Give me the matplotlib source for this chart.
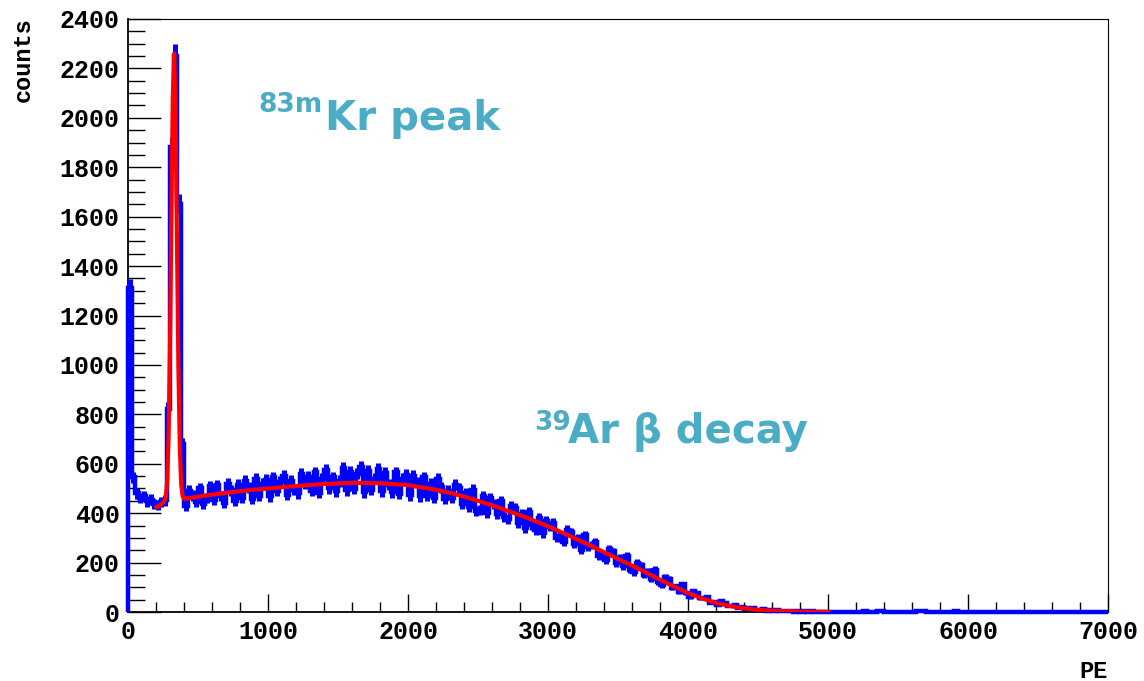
import numpy as np
import matplotlib
matplotlib.use("Agg")
import matplotlib.pyplot as plt
from matplotlib.ticker import MultipleLocator

# histogram: counts per 25 PE bin, 0 - 7000 PE
bin_width = 25
pe_min, pe_max = 0, 7000
counts = [
    1310, 545, 480, 462, 470, 448, 455, 438, 432, 446, 452, 820, 1880, 2250, 1650, 680,
    430, 490, 472, 445, 500, 438, 462, 508, 455, 512, 470, 440, 520, 492, 450, 515,
    462, 530, 505, 458, 540, 470, 518, 535, 468, 545, 490, 528, 552, 475, 530, 495,
    480, 558, 520, 548, 490, 565, 482, 540, 575, 500, 545, 488, 530, 582, 492, 568,
    498, 560, 585, 485, 570, 495, 540, 578, 488, 562, 515, 485, 565, 478, 540, 555,
    472, 550, 525, 468, 545, 470, 520, 462, 540, 505, 458, 490, 462, 515, 500, 438,
    480, 425, 495, 410, 412, 470, 400, 460, 438, 395, 450, 385, 375, 430, 420, 360,
    395, 340, 405, 352, 330, 382, 318, 370, 345, 360, 300, 308, 285, 332, 322, 275,
    298, 250, 310, 262, 270, 282, 225, 235, 210, 255, 245, 198, 220, 185, 228, 172,
    160, 200, 190, 150, 165, 132, 172, 122, 108, 140, 135, 98, 105, 82, 112, 76,
    60, 85, 78, 55, 56, 62, 38, 42, 30, 44, 38, 25, 25, 28, 16, 20,
    12, 18, 16, 10, 8, 11, 6, 7, 5, 7, 4, 5, 3, 5, 2, 4,
    2, 3, 1, 3, 1, 2, 1, 2,
    1, 0, 2, 1, 0, 1, 2, 0, 1, 2, 5, 1, 0, 2, 4, 6, 1, 0, 2, 1,
    0, 1, 2, 0, 1, 3, 6, 4, 1, 0, 1, 2, 0, 1, 1, 2, 5, 1, 0, 1,
    1, 0, 1, 2, 0, 1, 0, 1, 2, 0, 1, 0, 1, 1, 0, 2, 0, 1, 0, 1,
    0, 1, 0, 1, 2, 0, 1, 0, 0, 1, 0, 1, 0, 1, 1, 0, 0, 1, 0, 0,
]

# fitted curve
fit_pe = [205, 230, 250, 260, 270, 280, 290, 300, 310, 320, 330, 340, 350, 360,
          370, 380, 390, 400, 450, 500, 600, 700, 800, 900, 1000, 1200, 1400,
          1600, 1800, 2000, 2200, 2300, 2400, 2500, 2600, 2700, 2800, 2900,
          3000, 3100, 3200, 3300, 3400, 3500, 3600, 3700, 3800, 3900, 4000,
          4100, 4200, 4300, 4400, 4500, 4600, 4700, 4800, 4900, 5000]
fit_counts = [425, 433, 442, 450, 465, 530, 710, 1075, 1600, 2085, 2260, 2005,
              1490, 990, 670, 515, 470, 458, 462, 467, 475, 482, 489, 495, 500,
              510, 518, 523, 521, 514, 495, 482, 467, 450, 432, 412, 392, 370,
              347, 322, 296, 270, 242, 215, 188, 160, 131, 103, 77, 55, 37, 24,
              15, 9, 5, 3, 2, 1, 1]

label_color = '#4BACC6'
mono = ['Liberation Mono', 'DejaVu Sans Mono']

counts = np.array(counts, dtype=float)
edges = np.arange(pe_min, pe_max + bin_width, bin_width)
centers = 0.5 * (edges[:-1] + edges[1:])
err = np.sqrt(counts)

fig = plt.figure(figsize=(11.44, 6.81), dpi=100)
ax = fig.add_axes([128/1144, 69/681, 980/1144, 593/681])

ax.stairs(counts, edges, baseline=0, color='#0000ff', lw=3.2, zorder=3, clip_on=False)
ax.vlines(centers, counts - err, counts + err, color='#0000ff', lw=3.6, zorder=3, clip_on=False)
ax.plot(fit_pe, fit_counts, color='#ff0000', lw=3.0, zorder=4, solid_joinstyle='round')

ax.set_xlim(pe_min, pe_max)
ax.set_ylim(0, 2400)
ax.xaxis.set_major_locator(MultipleLocator(1000))
ax.xaxis.set_minor_locator(MultipleLocator(200))
ax.yaxis.set_major_locator(MultipleLocator(200))
ax.yaxis.set_minor_locator(MultipleLocator(50))

ax.tick_params(axis='x', which='major', direction='in', length=13, width=1.0, pad=6)
ax.tick_params(axis='x', which='minor', direction='in', length=7, width=1.0)
ax.tick_params(axis='y', which='major', direction='in', length=24, width=1.0, pad=6)
ax.tick_params(axis='y', which='minor', direction='in', length=12, width=1.0)
for lab in ax.get_xticklabels() + ax.get_yticklabels():
    lab.set_family(mono)
    lab.set_fontweight('bold')
    lab.set_fontsize(18)

for side in ['left', 'bottom']:
    ax.spines[side].set_linewidth(1.3)
for side in ['top', 'right']:
    ax.spines[side].set_linewidth(0.8)

fig.text(23/1144, 1 - 17/681, 'counts', rotation=90, ha='center', va='top',
         family=mono, fontweight='bold', fontsize=17)
fig.text(1108/1144, 1 - 660/681, 'PE', ha='right', va='top',
         family=mono, fontweight='bold', fontsize=17)

# annotations
ax.text(929, 2024, '83m', color=label_color, fontsize=19, fontweight='bold',
        family='DejaVu Sans', ha='left', va='baseline')
ax.text(1405, 1951, 'Kr peak', color=label_color, fontsize=29, fontweight='bold',
        family='DejaVu Sans', ha='left', va='baseline')
ax.text(2900, 737, '39', color=label_color, fontsize=19, fontweight='bold',
        family='DejaVu Sans', ha='left', va='baseline')
ax.text(3140, 684, 'Ar β decay', color=label_color, fontsize=29, fontweight='bold',
        family='DejaVu Sans', ha='left', va='baseline')

fig.savefig('out.png', dpi=100)
